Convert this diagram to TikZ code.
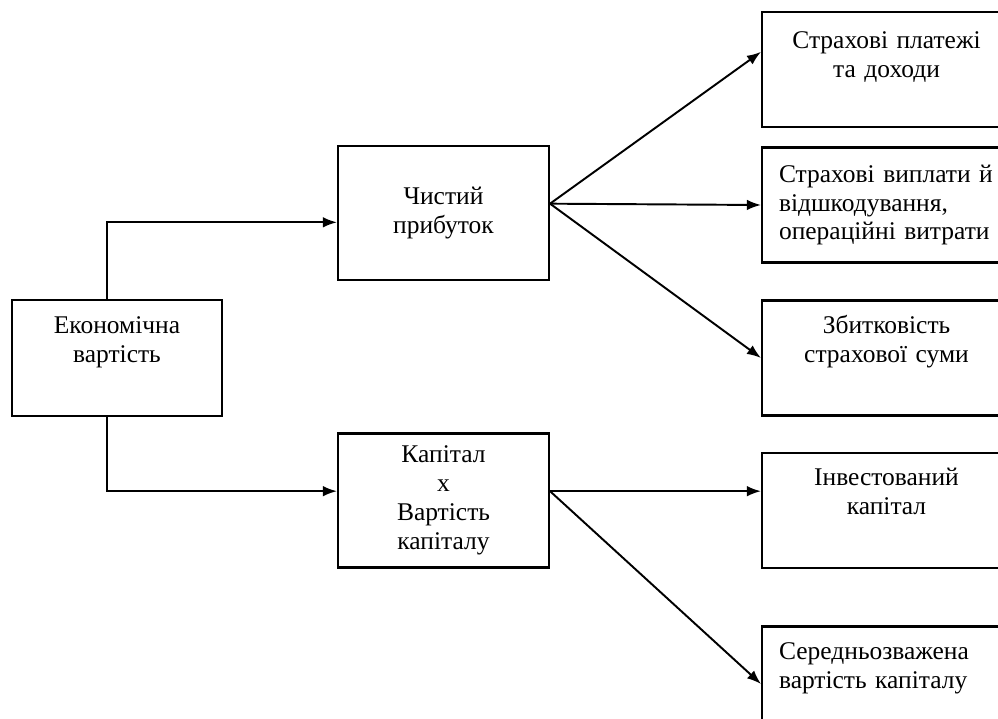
\documentclass[tikz,border=0pt]{standalone}
\usepackage{fontspec}
\setmainfont{Liberation Serif}
\usetikzlibrary{arrows.meta}

\begin{document}
\begin{tikzpicture}[x=0.02cm, y=-0.02cm,
    every node/.style={font=\fontsize{14.5}{16.5}\selectfont},
    box/.style={draw, line width=1.2pt, align=center, inner sep=0pt},
    leftbox/.style={box, minimum width=4.2cm, minimum height=2.32cm},
    midbox/.style={box, minimum width=4.22cm, minimum height=2.68cm},
    rbox/.style={box, anchor=west, text width=4.3cm, inner xsep=0.34cm, minimum height=2.3cm},
    arr/.style={line width=1.1pt, -{Latex[length=8pt, width=6pt]}}]
    % picture frame
    \clip (0,0) rectangle (998,719);

    % boxes
    \node[leftbox] (econ) at (117, 358) {Економічна\\вартість\\\strut};

    \node[midbox] (profit) at (443.5, 213) {Чистий\\прибуток};
    \node[midbox] (capital) at (443.5, 500.5) {Капітал\\x\\Вартість\\капіталу};

    \node[rbox] (r1) at (761, 69.5) {Страхові платежі\\та доходи\\[-4pt]\strut};
    \node[rbox, align=left] (r2) at (761, 205) {Страхові виплати й\\відшкодування,\\операційні витрати};
    \node[rbox] (r3) at (761, 358) {Збитковість\\страхової суми\\\strut};
    \node[rbox] (r4) at (761, 510.5) {Інвестований\\капітал\\\strut};
    \node[rbox, align=left] (r5) at (761, 684) {Середньозважена\\вартість капіталу\\\strut};

    % arrows
    \draw[arr] (econ.100) |- (profit.185);
    \draw[arr] (econ.260) |- (capital.175);

    \draw[arr] (profit.5) -- (r1.172);
    \draw[arr] (profit.5) -- (r2.west);
    \draw[arr] (profit.5) -- (r3.west);

    \draw[arr] (capital.5) -- (capital.5 -| r4.west);
    \draw[arr] (capital.5) -- (r5.west);
\end{tikzpicture}
\end{document}
